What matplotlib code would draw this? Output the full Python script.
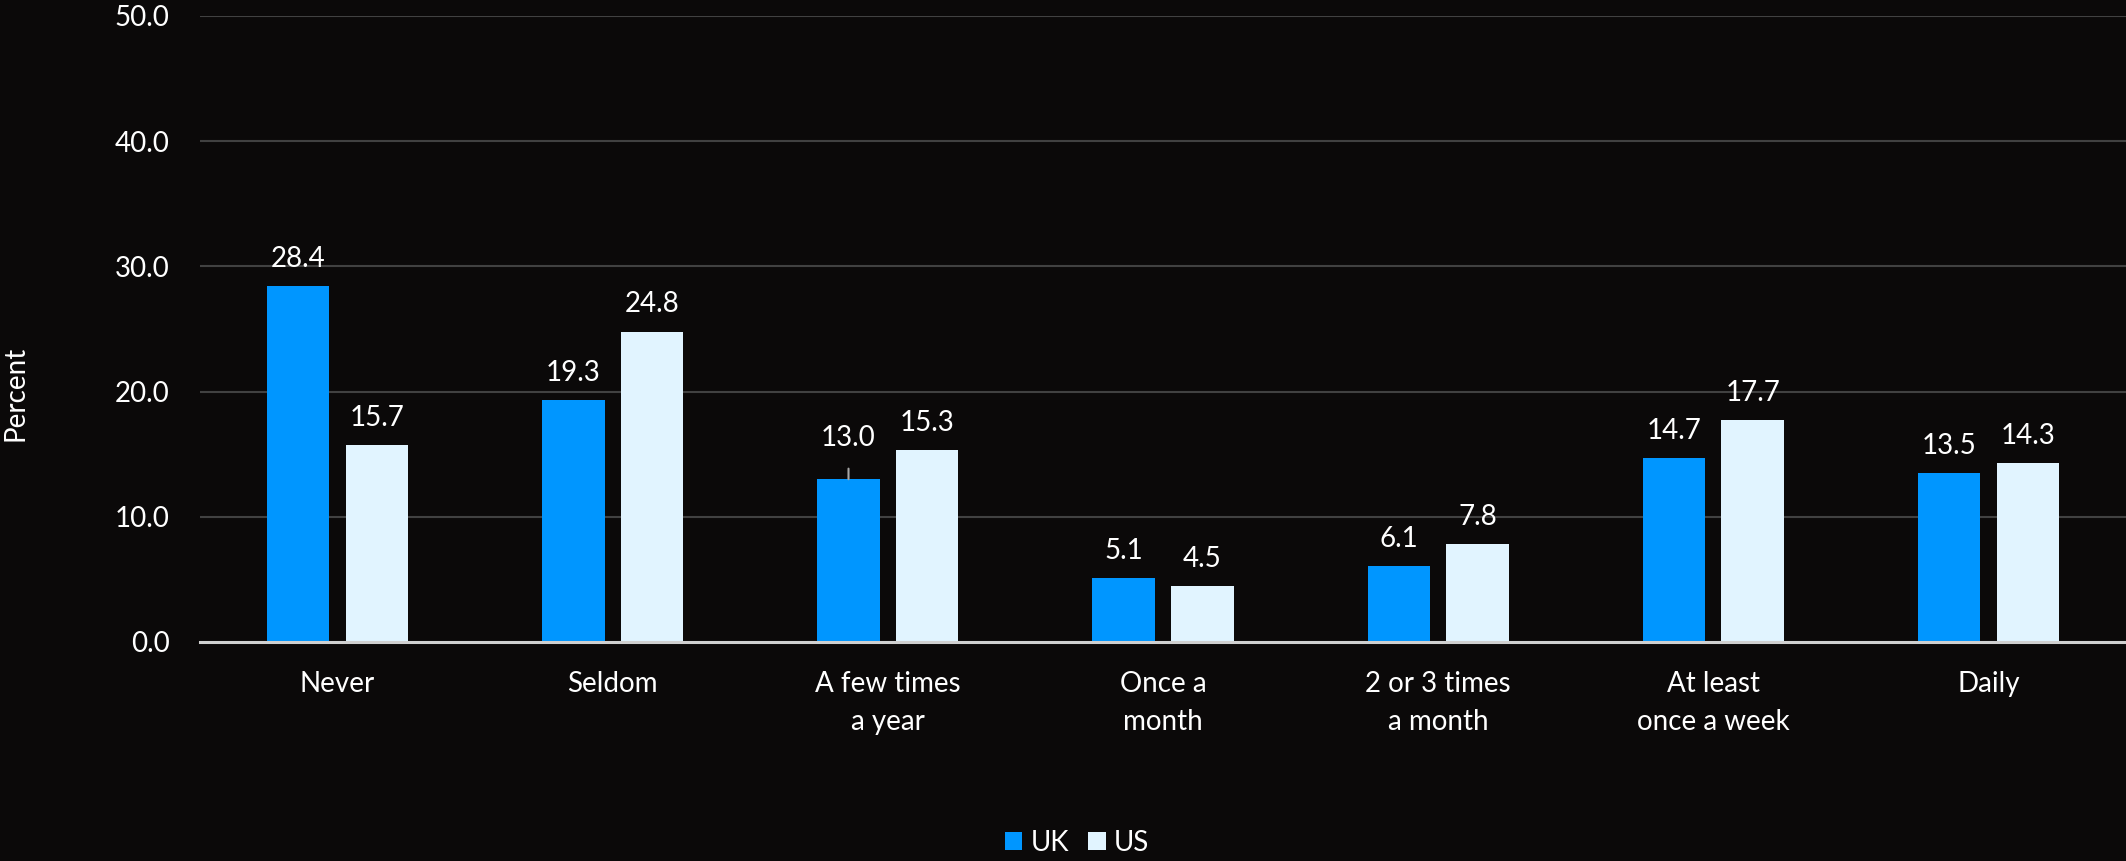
import matplotlib
matplotlib.use("Agg")
import matplotlib.pyplot as plt
import numpy as np

categories = ["Never", "Seldom", "A few times\na year", "Once a\nmonth",
              "2 or 3 times\na month", "At least\nonce a week", "Daily"]
uk_values = [28.4, 19.3, 13.0, 5.1, 6.1, 14.7, 13.5]
us_values = [15.7, 24.8, 15.3, 4.5, 7.8, 17.7, 14.3]
series_names = ["UK", "US"]
y_ticks = [0, 10, 20, 30, 40, 50]

plt.rcParams['font.family'] = ['Lato', 'DejaVu Sans']

BG = '#0b0909'
UK_C = '#0096FF'
US_C = '#E1F4FF'
TXT = '#FFFFFF'

fig = plt.figure(figsize=(21.26, 8.61), dpi=100)
fig.patch.set_facecolor(BG)
ax = fig.add_axes([200/2126, 219/861, 1 - 200/2126, 626/861])
ax.set_facecolor('none')

x = np.arange(len(categories))
w = 0.227
off = 0.143
ax.bar(x - off, uk_values, w, color=UK_C, label=series_names[0], zorder=3)
ax.bar(x + off, us_values, w, color=US_C, label=series_names[1], zorder=3)

ax.set_xlim(-0.5, len(categories) - 0.5)
ax.set_ylim(0, 50)
ax.set_yticks(y_ticks)
ax.set_yticklabels([f"{v:.1f}" for v in y_ticks])
ax.set_xticks(x)
ax.set_xticklabels(categories, linespacing=1.58)
ax.tick_params(axis='both', length=0, colors=TXT, labelsize=20)
ax.tick_params(axis='y', pad=22)
ax.tick_params(axis='x', pad=21)
for lbl in ax.get_xticklabels():
    lbl.set_verticalalignment('top')

ax.grid(axis='y', color='#414141', linewidth=1.5, zorder=0)
ax.set_axisbelow(True)
for s in ['top', 'right', 'left']:
    ax.spines[s].set_visible(False)
ax.spines['bottom'].set_color('#d0d0d0')
ax.spines['bottom'].set_linewidth(2.2)
ax.spines['bottom'].set_zorder(4)

def label_bars(xs, vals, special=None):
    for xi, v in zip(xs, vals):
        if special is not None and v == special:
            ax.annotate(f"{v:.1f}", xy=(xi, v), xytext=(0, 30),
                        textcoords='offset points', ha='center', va='center',
                        color=TXT, fontsize=20,
                        arrowprops=dict(arrowstyle='-', color='#a6a6a6', lw=1.5,
                                        shrinkA=11, shrinkB=0))
        else:
            ax.annotate(f"{v:.1f}", xy=(xi, v), xytext=(0, 19.5),
                        textcoords='offset points', ha='center', va='center',
                        color=TXT, fontsize=20)

label_bars(x - off, uk_values, special=13.0)
label_bars(x + off, us_values)

fig.text(16/2126, 1 - 393/861, "Percent", rotation=90, ha='center', va='center',
         color=TXT, fontsize=20)

fig.legend(loc='center', bbox_to_anchor=(1077/2126, 1 - 843/861), ncol=2,
           frameon=False, fontsize=20, handlelength=0.62, handleheight=0.62,
           handletextpad=0.3, columnspacing=0.7, labelcolor=TXT)

fig.savefig("out.png", dpi=100, facecolor=BG)
